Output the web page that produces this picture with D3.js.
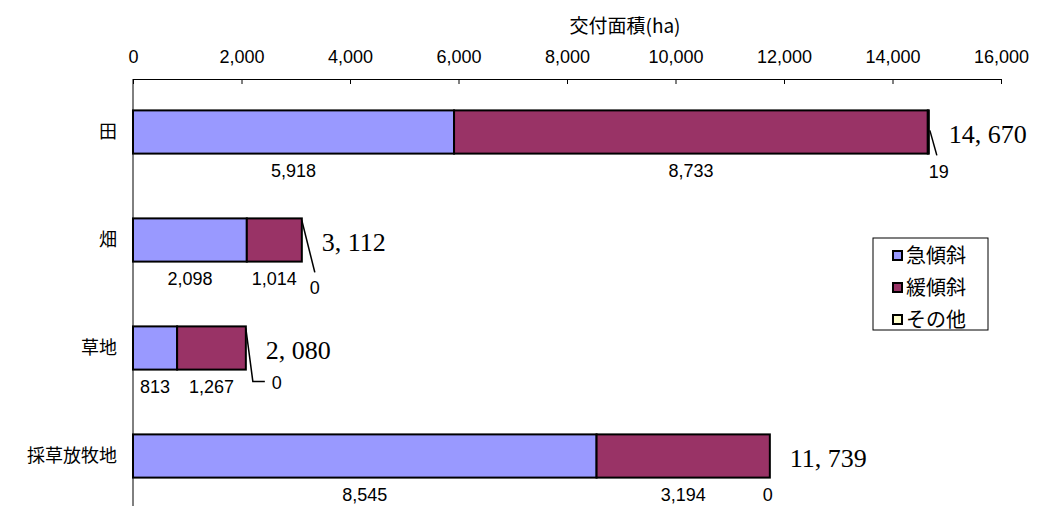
<!doctype html>
<html>
<head>
  <meta charset="utf-8">
  <title>交付面積</title>
  <style>
    body { margin: 0; background: #fff; }
    svg text { font-family: "Noto Sans CJK JP", sans-serif; fill: #000; }
    svg text.num { font-family: "Liberation Sans", Arial, sans-serif; }
  </style>
</head>
<body>
  <div id="vis"></div>

  <script src="https://cdn.jsdelivr.net/npm/d3@7"></script>
  <script>

    var categories = ["田", "畑", "草地", "採草放牧地"];
    var steep  = [5918, 2098, 813, 8545];
    var gentle = [8733, 1014, 1267, 3194];
    var other  = [19, 0, 0, 0];
    var totals = [14670, 3112, 2080, 11739];
    var seriesNames = ["急傾斜", "緩傾斜", "その他"];
    var xTicks = [0, 2000, 4000, 6000, 8000, 10000, 12000, 14000, 16000];

    var colors = ["#9999ff", "#993366", "#ffffcc"];

    var w = 1039, h = 506;

    var svg = d3.select("#vis").append("svg")
      .attr("width", w)
      .attr("height", h);

    var dataset = categories.map(function(c, i) {
      return { cat: c, s0: steep[i], s1: gentle[i], s2: other[i], total: totals[i] };
    });

    var stack = d3.stack().keys(["s0", "s1", "s2"]);
    var layers = stack(dataset);

    var x = d3.scaleLinear().domain([0, 16000]).range([133, 1001]);
    var y = d3.scaleBand()
      .domain(categories)
      .range([78, 510])
      .paddingInner(0.6)
      .paddingOuter(0.3);

    var fmt = d3.format(",");

    // top axis, ticks pointing into the plot
    var xAxis = d3.axisTop(x)
      .tickValues(xTicks)
      .tickFormat(fmt)
      .tickSizeInner(-5)
      .tickSizeOuter(0)
      .tickPadding(16);

    var gx = svg.append("g")
      .attr("transform", "translate(0,79)")
      .call(xAxis);
    gx.selectAll("path, line").attr("stroke", "#000");
    gx.selectAll("text")
      .attr("class", "num")
      .attr("font-family", null)
      .attr("font-size", null)
      .style("font-size", "18px");

    svg.append("text")
      .attr("x", 625)
      .attr("y", 33)
      .attr("text-anchor", "middle")
      .style("font-size", "19px")
      .text("交付面積(ha)");

    // left axis line
    svg.append("line")
      .attr("x1", x(0)).attr("x2", x(0))
      .attr("y1", 79).attr("y2", 510)
      .attr("stroke", "#000");

    svg.selectAll(".cat")
      .data(categories)
      .enter().append("text")
      .attr("class", "cat")
      .attr("x", 117)
      .attr("y", function(d) { return y(d) + y.bandwidth() / 2; })
      .attr("dy", "0.35em")
      .attr("text-anchor", "end")
      .style("font-size", "18px")
      .text(function(d) { return d; });

    // bars
    var groups = svg.selectAll(".layer")
      .data(layers)
      .enter().append("g")
      .attr("class", "layer")
      .attr("fill", function(d, i) { return colors[i]; });

    groups.selectAll("rect")
      .data(function(d) { return d; })
      .enter().append("rect")
      .attr("x", function(d) { return x(d[0]); })
      .attr("y", function(d) { return y(d.data.cat); })
      .attr("width", function(d) { return x(d[1]) - x(d[0]); })
      .attr("height", y.bandwidth())
      .attr("stroke", "#000")
      .attr("stroke-width", 2);

    // value labels under the first two segments
    layers.slice(0, 2).forEach(function(layer) {
      svg.selectAll(null)
        .data(layer)
        .enter().append("text")
        .attr("class", "num")
        .attr("x", function(d) { return (x(d[0]) + x(d[1])) / 2; })
        .attr("y", function(d) { return y(d.data.cat) + y.bandwidth() + 17; })
        .attr("dy", "0.35em")
        .attr("text-anchor", "middle")
        .style("font-size", "18px")
        .text(function(d) { return fmt(d[1] - d[0]); });
    });

    // その他 labels with leader lines, offsets from bar end / bar top
    var leaders = [
      [[1, 20], [8, 45]],
      [[0, 2], [13, 54]],
      [[0, 2], [7, 55], [19, 55]],
      []
    ];
    var otherLabelPos = [[10, 61], [13, 69], [31, 56], [-2, 60]];

    layers[2].forEach(function(d, i) {
      var x0 = x(d[1]), y0 = y(d.data.cat);
      if (leaders[i].length) {
        svg.append("path")
          .attr("d", d3.line()(leaders[i].map(function(p) { return [x0 + p[0], y0 + p[1]]; })))
          .attr("fill", "none")
          .attr("stroke", "#000")
          .attr("stroke-width", 1.5);
      }
      svg.append("text")
        .attr("class", "num")
        .attr("x", x0 + otherLabelPos[i][0])
        .attr("y", y0 + otherLabelPos[i][1])
        .attr("dy", "0.35em")
        .attr("text-anchor", "middle")
        .style("font-size", "18px")
        .text(fmt(d[1] - d[0]));
    });

    // totals
    svg.selectAll(".total")
      .data(dataset)
      .enter().append("text")
      .attr("class", "total")
      .attr("x", function(d) { return x(d.total) + 20; })
      .attr("y", function(d) { return y(d.cat) + y.bandwidth() / 2 + 2; })
      .attr("dy", "0.35em")
      .style("font-family", "'Liberation Serif', serif")
      .style("font-size", "26px")
      .text(function(d) { return fmt(d.total).replace(",", ", "); });

    // legend
    var legend = svg.append("g").attr("transform", "translate(873,238)");
    legend.append("rect")
      .attr("width", 115).attr("height", 92)
      .attr("fill", "#fff")
      .attr("stroke", "#000");

    var items = legend.selectAll(".item")
      .data(seriesNames)
      .enter().append("g")
      .attr("class", "item")
      .attr("transform", function(d, i) { return "translate(20," + (18 + i * 32) + ")"; });

    items.append("rect")
      .attr("x", 0).attr("y", -5)
      .attr("width", 9).attr("height", 9)
      .attr("fill", function(d, i) { return colors[i]; })
      .attr("stroke", "#000")
      .attr("stroke-width", 2);

    items.append("text")
      .attr("x", 13)
      .attr("dy", "0.35em")
      .style("font-size", "20px")
      .text(function(d) { return d; });

  </script>
</body>
</html>
